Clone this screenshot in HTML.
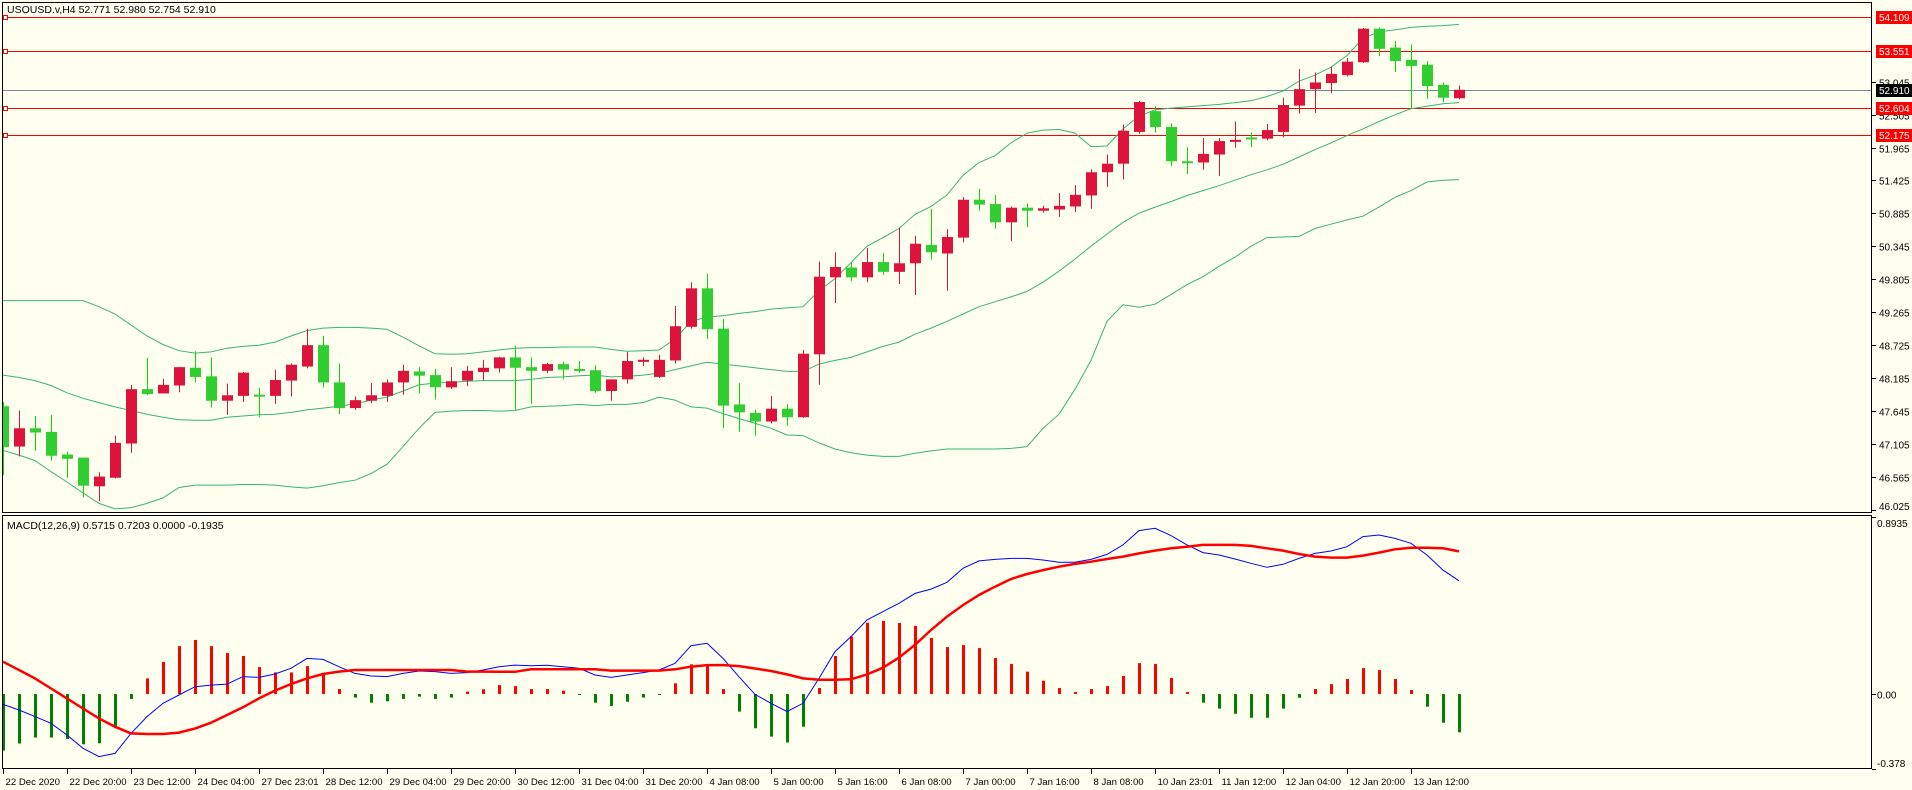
<!DOCTYPE html>
<html><head><meta charset="utf-8"><style>
html,body{margin:0;padding:0;background:#fffff0;}
svg{display:block;font-family:"Liberation Sans",sans-serif;}
</style></head><body>
<svg id="chart" width="1912" height="790" viewBox="0 0 1912 790" xmlns="http://www.w3.org/2000/svg">
<rect x="0" y="0" width="1912" height="790" fill="#fffff0"/>
<defs>
<clipPath id="mainClip"><rect x="3" y="3" width="1869" height="510"/></clipPath>
<clipPath id="macdClip"><rect x="3" y="516" width="1869" height="253"/></clipPath>
</defs>
<g id="main" clip-path="url(#mainClip)"></g>
<g id="macd" clip-path="url(#macdClip)"></g>
<g id="axes"></g>
<rect x="2.5" y="2.5" width="1869" height="510" fill="none" stroke="#000"/>
<rect x="2.5" y="515.5" width="1869" height="253" fill="none" stroke="#000"/>
<text x="7" y="13" font-size="10.5" fill="#000">USOUSD.v,H4  52.771 52.980 52.754 52.910</text>
<text x="7" y="529" font-size="10.5" fill="#000">MACD(12,26,9) 0.5715 0.7203 0.0000 -0.1935</text>
</svg>
<script>
const opens=[47.73,47.07,47.37,47.31,46.94,46.89,46.42,46.56,47.12,48.01,47.94,48.07,48.36,48.22,47.82,47.90,47.92,47.90,48.15,48.38,48.73,48.12,47.70,47.82,47.90,48.12,48.30,48.24,48.04,48.15,48.29,48.35,48.53,48.37,48.31,48.42,48.34,48.32,47.98,48.17,48.46,48.21,48.48,49.03,49.66,49.00,47.76,47.62,47.48,47.69,47.55,48.58,49.84,50.00,49.84,50.09,49.93,50.07,50.37,50.23,50.49,51.11,51.04,50.74,50.98,50.93,50.95,51.00,51.18,51.56,51.70,52.22,52.56,52.30,51.74,51.72,51.85,52.07,52.13,52.11,52.22,52.65,52.92,53.02,53.15,53.36,53.91,53.60,53.40,53.32,52.99,52.771];
const highs=[47.80,47.66,47.57,47.59,46.99,46.89,46.65,47.25,48.08,48.52,48.18,48.37,48.63,48.53,48.10,48.29,48.03,48.33,48.43,49.00,48.88,48.43,47.89,48.11,48.17,48.41,48.37,48.34,48.37,48.39,48.49,48.54,48.72,48.53,48.44,48.46,48.47,48.40,48.17,48.62,48.53,48.57,49.37,49.76,49.90,49.16,48.11,47.67,47.90,47.77,48.65,50.10,50.25,50.08,50.32,50.24,50.65,50.52,50.96,50.63,51.15,51.29,51.19,51.00,51.05,51.01,51.22,51.35,51.61,51.85,52.34,52.73,52.64,52.36,51.97,52.12,52.12,52.39,52.21,52.35,52.78,53.25,53.19,53.29,53.43,53.92,53.93,53.71,53.65,53.38,53.03,52.980];
const lows=[46.60,46.91,47.00,46.84,46.56,46.24,46.18,46.55,46.97,47.91,47.94,47.96,48.12,47.71,47.59,47.80,47.55,47.77,47.89,48.35,48.04,47.60,47.67,47.78,47.80,47.92,47.94,47.84,48.01,48.06,48.15,48.28,47.67,47.77,48.27,48.17,48.28,47.95,47.82,48.10,48.39,48.19,48.43,49.00,48.83,47.37,47.31,47.25,47.45,47.41,47.54,48.08,49.42,49.78,49.76,49.88,49.73,49.55,50.13,49.62,50.41,50.93,50.64,50.43,50.66,50.90,50.83,50.91,50.96,51.32,51.44,52.19,52.21,51.66,51.53,51.60,51.50,51.96,51.97,52.08,52.13,52.52,52.53,52.85,53.13,53.35,53.46,53.20,52.61,52.76,52.71,52.754];
const closes=[47.06,47.37,47.30,46.92,46.87,46.43,46.58,47.13,48.01,47.93,48.08,48.37,48.21,47.82,47.91,48.28,47.90,48.16,48.41,48.73,48.12,47.70,47.83,47.91,48.12,48.31,48.23,48.04,48.14,48.31,48.36,48.53,48.36,48.31,48.42,48.33,48.31,47.98,48.17,48.47,48.49,48.49,49.04,49.66,48.99,47.74,47.63,47.48,47.69,47.55,48.59,49.85,50.01,49.84,50.09,49.93,50.07,50.39,50.25,50.50,51.11,51.03,50.74,50.98,50.93,50.97,51.01,51.19,51.56,51.70,52.24,52.71,52.30,51.74,51.74,51.86,52.07,52.09,52.13,52.25,52.66,52.92,53.03,53.17,53.37,53.91,53.58,53.38,53.30,52.97,52.78,52.910];
const bbUpper=[49.46,49.46,49.46,49.46,49.46,49.46,49.36,49.24,49.06,48.88,48.74,48.64,48.60,48.62,48.68,48.71,48.73,48.78,48.88,48.97,49.01,49.02,49.02,49.01,48.99,48.86,48.72,48.59,48.58,48.59,48.62,48.65,48.68,48.69,48.69,48.70,48.70,48.70,48.66,48.63,48.64,48.65,48.83,49.12,49.19,49.21,49.25,49.28,49.32,49.34,49.36,49.62,49.82,50.08,50.35,50.49,50.64,50.87,51.00,51.19,51.51,51.72,51.83,52.04,52.20,52.25,52.26,52.20,51.98,51.99,52.27,52.48,52.58,52.61,52.63,52.65,52.67,52.70,52.73,52.80,52.89,53.05,53.15,53.28,53.47,53.75,53.86,53.89,53.93,53.95,53.96,53.98];
const bbMiddle=[48.24,48.20,48.15,48.07,47.95,47.86,47.79,47.72,47.66,47.60,47.55,47.51,47.50,47.50,47.55,47.57,47.59,47.60,47.63,47.67,47.70,47.73,47.77,47.83,47.88,47.98,48.08,48.11,48.12,48.14,48.15,48.15,48.15,48.17,48.20,48.21,48.23,48.24,48.21,48.22,48.24,48.27,48.33,48.39,48.45,48.42,48.39,48.36,48.33,48.30,48.30,48.42,48.48,48.53,48.62,48.71,48.78,48.91,49.01,49.12,49.24,49.36,49.44,49.52,49.61,49.76,49.94,50.14,50.35,50.55,50.74,50.89,50.99,51.08,51.18,51.26,51.34,51.43,51.52,51.60,51.69,51.81,51.93,52.04,52.16,52.27,52.39,52.50,52.60,52.64,52.68,52.70];
const bbLower=[47.01,46.93,46.84,46.66,46.49,46.31,46.14,46.05,46.07,46.14,46.23,46.40,46.44,46.44,46.44,46.45,46.45,46.44,46.41,46.39,46.43,46.48,46.52,46.63,46.78,47.07,47.37,47.63,47.65,47.66,47.66,47.65,47.66,47.72,47.73,47.74,47.76,47.74,47.76,47.76,47.79,47.88,47.83,47.72,47.70,47.61,47.53,47.45,47.37,47.26,47.25,47.13,47.03,46.97,46.93,46.91,46.91,46.96,47.00,47.03,47.03,47.03,47.03,47.04,47.07,47.37,47.60,48.01,48.48,49.12,49.39,49.35,49.40,49.56,49.72,49.85,50.02,50.17,50.35,50.49,50.50,50.51,50.64,50.71,50.78,50.84,50.99,51.15,51.26,51.40,51.43,51.44];
const macdLine=[-0.052,-0.081,-0.114,-0.148,-0.207,-0.274,-0.316,-0.300,-0.199,-0.114,-0.047,-0.005,0.037,0.045,0.050,0.088,0.084,0.101,0.130,0.180,0.175,0.138,0.104,0.091,0.088,0.104,0.116,0.113,0.104,0.108,0.121,0.138,0.146,0.143,0.145,0.138,0.130,0.096,0.084,0.096,0.108,0.121,0.155,0.244,0.256,0.180,0.087,-0.002,-0.047,-0.089,-0.047,0.079,0.214,0.290,0.374,0.416,0.458,0.508,0.530,0.564,0.635,0.672,0.680,0.685,0.685,0.677,0.665,0.665,0.680,0.705,0.753,0.825,0.837,0.800,0.753,0.714,0.702,0.682,0.660,0.640,0.655,0.685,0.710,0.722,0.744,0.795,0.803,0.786,0.761,0.702,0.626,0.5715];
const signalLine=[0.163,0.121,0.079,0.028,-0.022,-0.073,-0.123,-0.165,-0.199,-0.202,-0.202,-0.195,-0.174,-0.145,-0.106,-0.067,-0.022,0.017,0.050,0.079,0.101,0.113,0.121,0.121,0.121,0.121,0.121,0.121,0.121,0.113,0.113,0.112,0.112,0.125,0.125,0.125,0.125,0.125,0.118,0.118,0.118,0.118,0.125,0.138,0.146,0.146,0.141,0.129,0.116,0.099,0.079,0.072,0.072,0.074,0.099,0.133,0.184,0.248,0.323,0.391,0.449,0.500,0.542,0.581,0.606,0.626,0.643,0.657,0.668,0.682,0.694,0.710,0.724,0.736,0.744,0.753,0.753,0.753,0.748,0.736,0.724,0.707,0.694,0.689,0.689,0.699,0.714,0.731,0.739,0.739,0.736,0.7203];
const histogram=[-0.286,-0.25,-0.22,-0.22,-0.227,-0.254,-0.249,-0.173,-0.025,0.079,0.162,0.242,0.273,0.242,0.207,0.192,0.136,0.109,0.109,0.141,0.104,0.025,-0.018,-0.044,-0.037,-0.025,-0.013,-0.025,-0.018,0.012,0.024,0.045,0.040,0.025,0.025,0.017,-0.005,-0.044,-0.061,-0.039,-0.018,-0.005,0.054,0.150,0.143,0.025,-0.089,-0.173,-0.215,-0.245,-0.165,0.030,0.192,0.290,0.360,0.369,0.359,0.344,0.283,0.237,0.247,0.232,0.182,0.152,0.113,0.067,0.030,0.010,0.025,0.040,0.091,0.156,0.152,0.081,0.010,-0.044,-0.074,-0.100,-0.120,-0.120,-0.074,-0.019,0.025,0.050,0.076,0.131,0.121,0.076,0.020,-0.064,-0.145,-0.1935];
const priceTicks=[53.045,52.505,51.965,51.425,50.885,50.345,49.805,49.265,48.725,48.185,47.645,47.105,46.565,46.025];
const levelValues=[54.109,53.551,52.604,52.175];
const currentPrice=52.910;
const macdTicks=["0.8935","0.00","-0.378"];
const macdTickValues=[0.8935,0,-0.378];
const timeLabels=["22 Dec 2020","22 Dec 20:00","23 Dec 12:00","24 Dec 04:00","27 Dec 23:01","28 Dec 12:00","29 Dec 04:00","29 Dec 20:00","30 Dec 12:00","31 Dec 04:00","31 Dec 20:00","4 Jan 08:00","5 Jan 00:00","5 Jan 16:00","6 Jan 08:00","7 Jan 00:00","7 Jan 16:00","8 Jan 08:00","10 Jan 23:01","11 Jan 12:00","12 Jan 04:00","12 Jan 20:00","13 Jan 12:00"];

const NS="http://www.w3.org/2000/svg";
function xB(i){return 3+16*i;}
function yP(p){return 147.5-(p-51.965)*61.1;}
function yM(v){return 694-v*198;}
function mk(tag,attrs,parent){const e=document.createElementNS(NS,tag);for(const k in attrs)e.setAttribute(k,attrs[k]);parent.appendChild(e);return e;}
const main=document.getElementById('main'),macd=document.getElementById('macd'),axes=document.getElementById('axes');

const cy=Math.round(yP(currentPrice))+0.5;
let g=mk('line',{x1:3,x2:1872,y1:cy,y2:cy,stroke:'#778899','stroke-width':1},main);


levelValues.forEach((v,i)=>{
  const y=Math.round(yP(v))+0.5;
  const l=mk('line',{x1:3,x2:1872,y1:y,y2:y,stroke:'#ff0000','stroke-width':1},main);
  
  
  const s=mk('rect',{x:3.5,y:y-2,width:4,height:4,fill:'#fff',stroke:'#ff0000','stroke-width':1},main);
  
  
});

function band(arr,name){
  const d=arr.map((v,i)=>(i?'L':'M')+xB(i)+','+yP(v).toFixed(1)).join(' ');
  const p=mk('path',{d:d,fill:'none',stroke:'#3cb371','stroke-width':1},main);
  
  
}
band(bbUpper,'bollinger-upper');band(bbMiddle,'bollinger-middle');band(bbLower,'bollinger-lower');

opens.forEach((o,i)=>{
  const c=closes[i],up=c>o;
  const x=xB(i);
  const w=mk('line',{x1:x+0.5,x2:x+0.5,y1:yP(highs[i]),y2:yP(lows[i]),stroke:up?'#dc143c':'#00e000','stroke-width':1},main);
  
  
  const t=Math.min(yP(o),yP(c)),h=Math.max(2,Math.abs(yP(o)-yP(c)));
  const b=mk('rect',{x:x-5,y:t,width:11,height:h,fill:up?'#dc143c':'#32cd32'},main);
  
  
});

histogram.forEach((v,i)=>{
  const x=xB(i);const y0=yM(0),y1=yM(v);
  const r=mk('rect',{x:x-1,y:Math.min(y0,y1),width:3,height:Math.max(1,Math.abs(y1-y0)),fill:v>=0?'#ff0000':'#008000'},macd);
  
  
});
function mline(arr,color,w,name){
  const d=arr.map((v,i)=>(i?'L':'M')+xB(i)+','+yM(v).toFixed(1)).join(' ');
  const p=mk('path',{d:d,fill:'none',stroke:color,'stroke-width':w},macd);
  
  
}
mline(macdLine,'#0000ff',1,'macd-line');
mline(signalLine,'#ff0000',2.5,'signal-line');

priceTicks.forEach((v,i)=>{
  const y=Math.round(yP(v))+0.5;
  mk('line',{x1:1872,x2:1876,y1:y,y2:y,stroke:'#000'},axes);
  const t=mk('text',{x:1879,y:Math.min(y+4,510),'font-size':10,fill:'#000'},axes);
  t.textContent=v.toFixed(3);
  
  
});
function tag(v,bg,name){
  const y=Math.round(yP(v));
  const r=mk('rect',{x:1876,y:y-6,width:36,height:13,fill:bg},axes);
  
  
  const t=mk('text',{x:1879,y:y+4,'font-size':10,fill:'#fff'},axes);
  t.textContent=v.toFixed(3);
  
  
}
levelValues.forEach((v,i)=>tag(v,'#ff0000','level-label-'+i));
tag(currentPrice,'#000000','current-price-label');

macdTickValues.forEach((v,i)=>{
  const y=Math.round(yM(v))+0.5;
  mk('line',{x1:1872,x2:1876,y1:y,y2:y,stroke:'#000'},axes);
  const t=mk('text',{x:1877,y:Math.max(Math.min(y+4,767),527),'font-size':10,fill:'#000'},axes);
  t.textContent=macdTicks[i];
  
  
});

timeLabels.forEach((s,i)=>{
  const x=xB(i*4)+0.5;
  mk('line',{x1:x,x2:x,y1:769,y2:774,stroke:'#000'},axes);
  const t=mk('text',{x:x+2,y:785,'font-size':9.6,fill:'#000'},axes);
  t.textContent=s;
  
  
});
</script>
</body></html>
